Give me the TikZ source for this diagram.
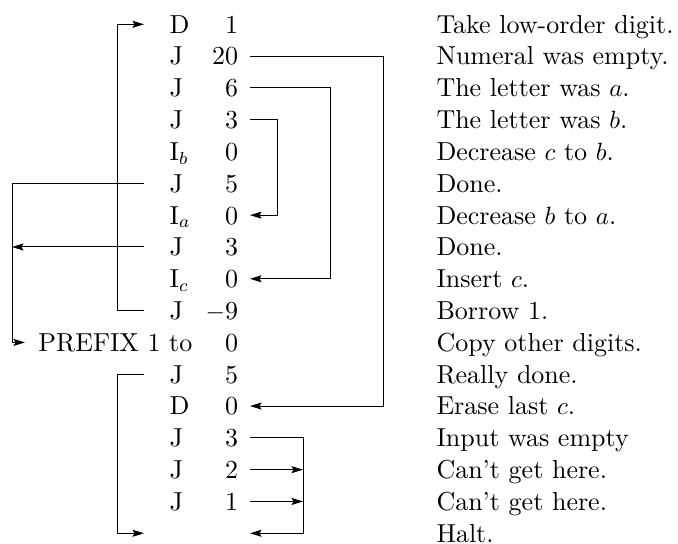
\documentclass[tikz,border=0pt]{standalone}
\usetikzlibrary{arrows.meta}
\begin{document}
\begin{tikzpicture}[x=0.4pt,y=-0.4pt,
  every node/.style={font=\fontsize{10.4}{12.5}\selectfont,
    text height=7.1pt, text depth=0pt, inner ysep=0pt},
  op/.style={anchor=west, inner xsep=10pt},
  pre/.style={anchor=west, inner xsep=5.2pt},
  num/.style={anchor=east, inner xsep=4.6pt},
  com/.style={anchor=west, inner xsep=0pt},
  wire/.style={line width=0.4pt},
  arr/.style={wire, -{Stealth[length=4.6pt,width=2.8pt,inset=0.8pt]}}]
\useasboundingbox (0,0) rectangle (678,543);

% vertical bus positions
\coordinate (xL) at (12,0);
\coordinate (xA) at (117,0);
\coordinate (xB) at (277,0);
\coordinate (xR) at (303,0);
\coordinate (xC) at (330,0);
\coordinate (xD) at (383,0);

% program listing: operation, operand, comment
\foreach \k/\op/\num/\com in {
  0/D/1/Take low-order digit.,
  1/J/20/Numeral was empty.,
  2/J/6/The letter was $a$.,
  3/J/3/The letter was $b$.,
  4/I$_b$/0/Decrease $c$ to $b$.,
  5/J/5/Done.,
  6/I$_a$/0/Decrease $b$ to $a$.,
  7/J/3/Done.,
  8/I$_c$/0/Insert $c$.,
  9/J/$-$9/Borrow 1.,
  11/J/5/Really done.,
  12/D/0/Erase last $c$.,
  13/J/3/Input was empty,
  14/J/2/Can't get here.,
  15/J/1/Can't get here.,
  16///Halt.}{
  \pgfmathsetmacro\yy{24.3+31.81*\k}
  \node[op]  (o\k) at (144,\yy) {\op};
  \node[num] (n\k) at (250,\yy) {\num};
  \node[com] (c\k) at (436,\yy) {\com};
}
\pgfmathsetmacro\yy{24.3+31.81*10}
\node[pre] (p10) at (25,\yy) {PREFIX 1 to};
\node[num] (n10) at (250,\yy) {0};
\node[com] (c10) at (436,\yy) {Copy other digits.};

% jumps
\draw[arr] (o9.west) -- (o9.west -| xA) |- (o0.west);
\draw[arr] (n1.east) -- (n1.east -| xD) |- (n12.east);
\draw[arr] (n2.east) -- (n2.east -| xC) |- (n8.east);
\draw[arr] (n3.east) -- (n3.east -| xB) |- (n6.east);
\draw[arr] (o5.west) -- (o5.west -| xL) |- (p10.west);
\draw[arr] (o7.west) -- (o7.west -| xL);
\draw[arr] (o11.west) -- (o11.west -| xA) |- (o16.west);
\draw[arr] (n13.east) -- (n13.east -| xR) |- (n16.east);
\draw[arr] (n14.east) -- (n14.east -| xR);
\draw[arr] (n15.east) -- (n15.east -| xR);
\end{tikzpicture}
\end{document}
